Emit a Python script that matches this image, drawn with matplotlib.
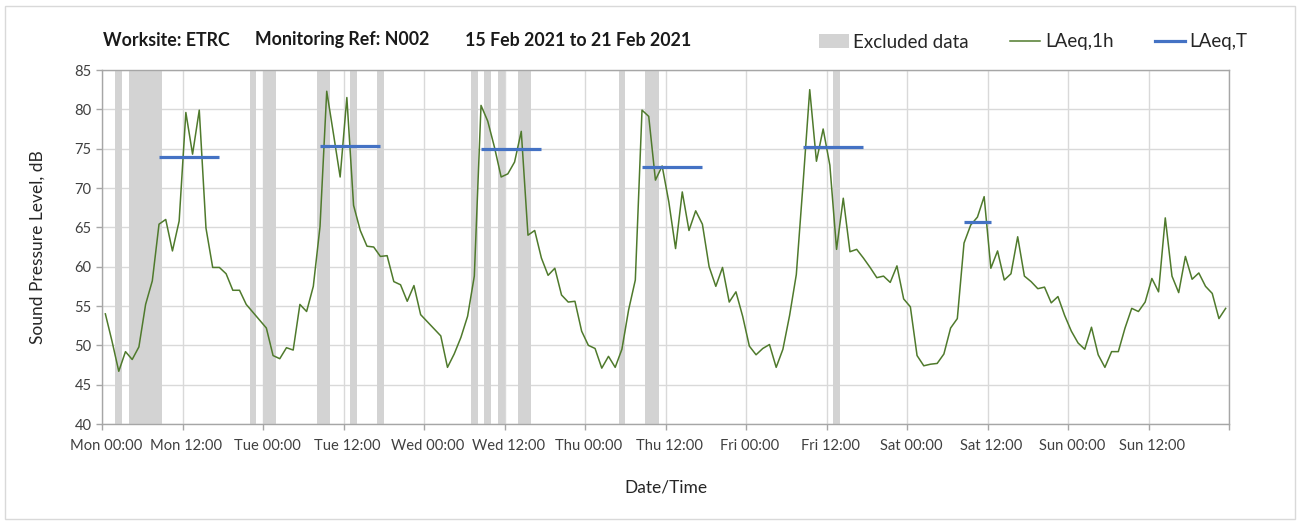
import matplotlib
matplotlib.use("Agg")
import matplotlib.pyplot as plt
from matplotlib.patches import Rectangle
from matplotlib.lines import Line2D
from matplotlib.transforms import ScaledTranslation

plt.rcParams['font.family'] = ['Lato', 'DejaVu Sans']

# ---------------- data ----------------
# hourly LAeq,1h values, Mon 00:00 .. Sun 23:00
laeq_1h = [
    54.0, 50.5, 46.7, 49.2, 48.2, 49.8, 55.2, 58.2, 65.4, 66.0, 62.0, 65.8,
    79.6, 74.3, 79.9, 64.9, 59.9, 59.9, 59.1, 57.0, 57.0, 55.2, 54.2, 53.2,
    52.2, 48.7, 48.3, 49.7, 49.4, 55.2, 54.3, 57.5, 65.1, 82.3, 76.9, 71.4,
    81.5, 67.8, 64.6, 62.6, 62.5, 61.3, 61.4, 58.1, 57.7, 55.6, 57.6, 53.9,
    53.0, 52.1, 51.2, 47.2, 48.9, 51.0, 53.7, 58.8, 80.5, 78.5, 75.2, 71.4,
    71.8, 73.3, 77.2, 64.0, 64.6, 61.1, 58.9, 59.8, 56.4, 55.5, 55.6, 51.8,
    50.0, 49.6, 47.1, 48.6, 47.2, 49.5, 54.5, 58.3, 79.9, 79.1, 71.0, 72.8,
    68.2, 62.3, 69.5, 64.6, 67.1, 65.4, 60.0, 57.5, 59.9, 55.5, 56.8, 53.7,
    49.9, 48.8, 49.6, 50.1, 47.2, 49.5, 53.8, 59.0, 70.5, 82.5, 73.4, 77.5,
    72.9, 62.2, 68.7, 61.9, 62.2, 61.1, 59.9, 58.6, 58.8, 58.0, 60.1, 55.9,
    54.9, 48.7, 47.4, 47.6, 47.7, 48.9, 52.2, 53.4, 63.0, 65.3, 66.3, 68.9,
    59.8, 62.0, 58.3, 59.1, 63.8, 58.8, 58.1, 57.2, 57.4, 55.4, 56.2, 53.8,
    51.8, 50.3, 49.5, 52.3, 48.8, 47.2, 49.2, 49.2, 52.2, 54.7, 54.3, 55.5,
    58.5, 56.8, 66.2, 58.8, 56.7, 61.3, 58.4, 59.2, 57.5, 56.6, 53.4, 54.7,
]
hours = list(range(len(laeq_1h)))

# excluded-data periods (start hour, end hour)
excluded = [(2, 3), (4, 9), (22, 23), (24, 26), (32, 34), (37, 38), (41, 42),
            (55, 56), (57, 58), (59, 60), (62, 64), (77, 78), (81, 83), (109, 110)]

# LAeq,T periods (start hour, end hour) and values
laeq_t_periods = [(8, 17), (32, 41), (56, 65), (80, 89), (104, 113), (128, 132)]
laeq_t_values = [74.0, 75.3, 75.0, 72.7, 75.2, 65.7]

tick_labels = ['Mon 00:00', 'Mon 12:00', 'Tue 00:00', 'Tue 12:00', 'Wed 00:00',
               'Wed 12:00', 'Thu 00:00', 'Thu 12:00', 'Fri 00:00', 'Fri 12:00',
               'Sat 00:00', 'Sat 12:00', 'Sun 00:00', 'Sun 12:00', '']
y_ticks = [40, 45, 50, 55, 60, 65, 70, 75, 80, 85]

# ---------------- styling ----------------
W, H = 1301, 524
fig = plt.figure(figsize=(W / 100, H / 100), dpi=100)
fig.patch.set_facecolor('white')
ax = fig.add_axes([102 / W, 1 - 424 / H, (1229 - 102) / W, (424 - 70) / H])

green = '#4f7a2c'
blue = '#4472c4'
band_col = '#d3d3d3'
grid_col = '#d9d9d9'
text_col = '#262626'
tick_col = '#404040'

for s, e in excluded:
    ax.axvspan(s, e, color=band_col, lw=0, zorder=1)

ax.plot([h + 0.5 for h in hours], laeq_1h, color=green, lw=1.1, zorder=3)

for (s, e), v in zip(laeq_t_periods, laeq_t_values):
    ax.plot([s + 0.5, e + 0.5], [v, v], color=blue, lw=2.3, zorder=4,
            solid_capstyle='butt')

ax.set_xlim(0, 168)
ax.set_ylim(40, 85)
ax.set_xticks(list(range(0, 169, 12)))
ax.set_xticklabels(tick_labels)
ax.set_yticks(y_ticks)
ax.grid(True, color=grid_col, lw=1.0, zorder=0)
ax.set_axisbelow(True)
for sp in ax.spines.values():
    sp.set_color('#a6a6a6')
    sp.set_linewidth(1.0)
ax.tick_params(axis='both', colors='#a6a6a6', labelcolor=tick_col,
               labelsize=10.6, length=4, width=1)
ax.tick_params(axis='x', pad=7)
shift = ScaledTranslation(4 / 100, 0, fig.dpi_scale_trans)
for lab in ax.get_xticklabels():
    lab.set_transform(lab.get_transform() + shift)

ax.set_ylabel('Sound Pressure Level, dB', fontsize=12.5, color=text_col, labelpad=21)
ax.set_xlabel('Date/Time', fontsize=12.5, color=text_col, labelpad=19)

# titles
title_kw = dict(fontsize=12.8, fontweight='bold', color='#1a1a1a',
                va='center', ha='left')
fig.text(103 / W, 1 - 40 / H, 'Worksite: ETRC', **title_kw)
fig.text(255 / W, 1 - 40 / H, 'Monitoring Ref: N002', **title_kw)
fig.text(465 / W, 1 - 40 / H, '15 Feb 2021 to 21 Feb 2021', **title_kw)

# legend
handles = [Rectangle((0, 0), 1, 1, color=band_col, lw=0),
           Line2D([], [], color=green, lw=1.1),
           Line2D([], [], color=blue, lw=2.3)]
leg = fig.legend(handles, ['Excluded data', 'LAeq,1h', 'LAeq,T'],
                 loc='center', bbox_to_anchor=(1033 / W, 1 - 42 / H), ncol=3,
                 frameon=False, fontsize=13.5, handlelength=1.6, handletextpad=0.25,
                 columnspacing=2.2, labelcolor=text_col)

# outer border
fig.add_artist(Rectangle((5 / W, 5 / H), (W - 11) / W, (H - 11) / H,
                         transform=fig.transFigure, fill=False,
                         edgecolor='#d9d9d9', lw=1.0))

fig.savefig('out.png', dpi=100)
